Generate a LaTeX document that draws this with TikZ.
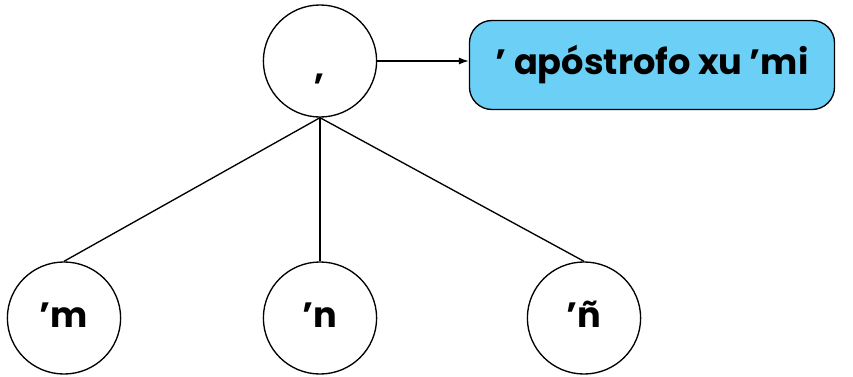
\documentclass[tikz,border=0pt]{standalone}
\usepackage{fontspec}
\setmainfont{Poppins}
\usetikzlibrary{arrows.meta,positioning,shapes.geometric}
\definecolor{boxcyan}{HTML}{6CCFF6}
\definecolor{linegray}{HTML}{000000}

\begin{document}
\begin{tikzpicture}[
  x=0.025cm, y=-0.025cm,
  >={Latex[length=7pt,width=5pt]},
  line width=0.95pt,
  flow/.style={->, draw=linegray, line width=0.95pt},
  branch/.style={draw=linegray, line width=0.95pt},
  letter/.style={draw=linegray, ellipse, minimum width=2.83cm, minimum height=2.8cm, inner sep=0pt,
    text height=0.6cm, text depth=0.15cm, font=\bfseries\fontsize{25}{29}\selectfont},
  box/.style={draw=linegray, fill=boxcyan, rounded corners=16pt, minimum width=9.125cm, minimum height=2.225cm,
    align=center, font=\bfseries\fontsize{25}{29}\selectfont}
]
  \useasboundingbox (0,0) rectangle (853,376);

  \node[letter, text height=0.9cm, text depth=0cm] (comma) at (320,61) {,};
  \node[box] (gloss) at (652,65) {’ apóstrofo xu ’mi};
  \draw[flow] (comma.east) -- (gloss.west |- comma.east);

  \node[letter] (m) at (64,318) {’m};
  \node[letter] (n) at (320,318) {’n};
  \node[letter] (nn) at (584,318) {’ñ};

  \draw[branch] (comma.south) -- (m.north);
  \draw[branch] (comma.south) -- (n.north);
  \draw[branch] (comma.south) -- (nn.north);
\end{tikzpicture}
\end{document}
